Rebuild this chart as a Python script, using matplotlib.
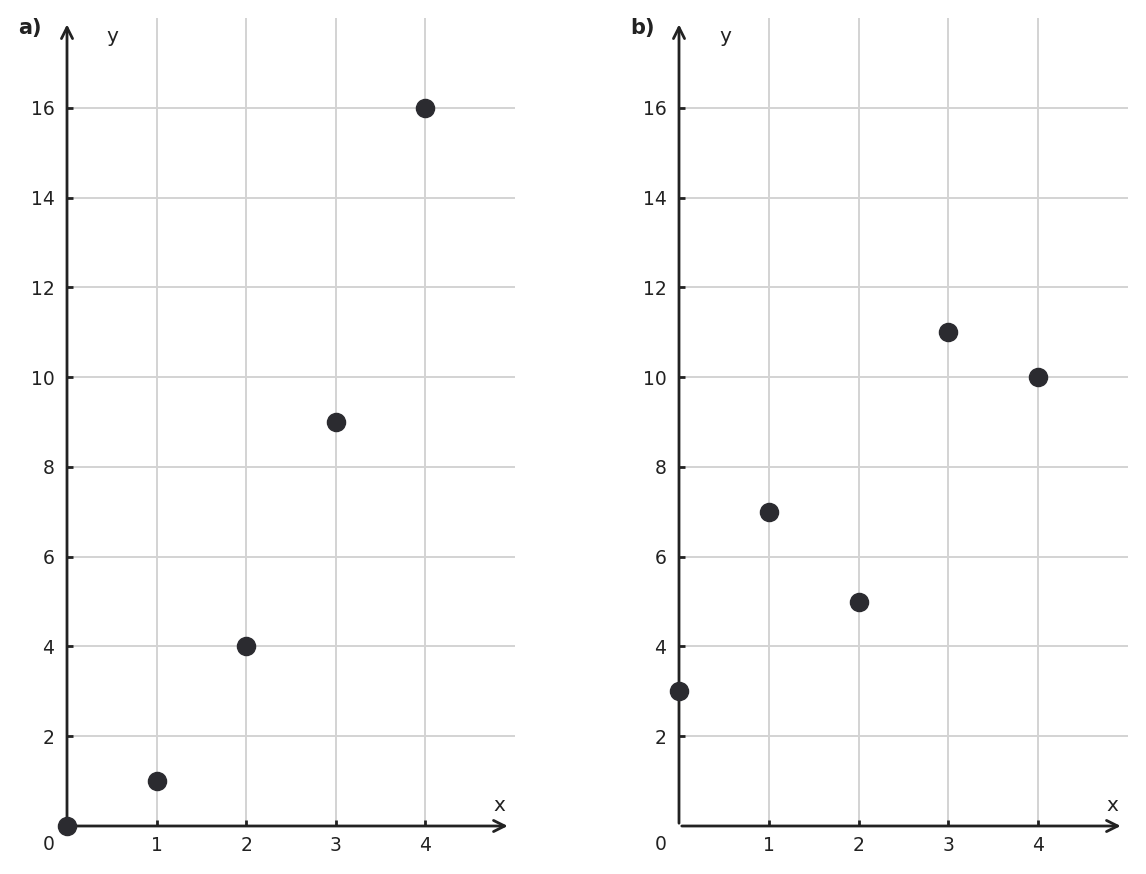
import matplotlib.pyplot as plt

# data for the two panels
x_vals = [0, 1, 2, 3, 4]
y_a = [0, 1, 4, 9, 16]
y_b = [3, 7, 5, 11, 10]
x_ticks = [1, 2, 3, 4]
y_ticks = [2, 4, 6, 8, 10, 12, 14, 16]

ink = '#222222'
dot = '#2b2b30'
grid_col = '#d3d3d3'

fig = plt.figure(figsize=(11.46, 8.74), dpi=100)
ax_a = fig.add_axes([67 / 1146, 48 / 874, 448 / 1146, 808 / 874])
ax_b = fig.add_axes([679 / 1146, 48 / 874, 449 / 1146, 808 / 874])

for ax, ys, tag in [(ax_a, y_a, 'a)'), (ax_b, y_b, 'b)')]:
    ax.set_xlim(0, 5)
    ax.set_ylim(0, 18)
    for s in ax.spines.values():
        s.set_visible(False)

    # grid lines
    for t in x_ticks:
        ax.axvline(t, color=grid_col, lw=1.4, zorder=0)
    for t in y_ticks:
        ax.axhline(t, color=grid_col, lw=1.4, zorder=0)

    ax.set_xticks(x_ticks)
    ax.set_yticks(y_ticks)
    ax.tick_params(direction='in', length=4, width=2, color=ink,
                   labelsize=13.5, labelcolor=ink, pad=7)
    ax.tick_params(axis='y', pad=9)

    # axis arrows
    ax.annotate('', xy=(4.95, 0), xytext=(0, 0),
                arrowprops=dict(arrowstyle='->', lw=2, color=ink,
                                mutation_scale=20), annotation_clip=False)
    ax.annotate('', xy=(0, 17.92), xytext=(0, 0),
                arrowprops=dict(arrowstyle='->', lw=2, color=ink,
                                mutation_scale=20), annotation_clip=False)

    ax.text(4.83, 0.45, 'x', fontsize=14.5, color=ink, ha='center', va='center')
    ax.text(0.51, 17.58, 'y', fontsize=14.5, color=ink, ha='center', va='center')
    ax.text(-0.2, -0.21, '0', fontsize=13.5, color=ink, ha='center', va='top')
    ax.text(-0.41, 17.78, tag, fontsize=15, fontweight='bold', color=ink,
            ha='center', va='center')

    ax.scatter(x_vals, ys, s=170, color=dot, zorder=5, clip_on=False)

plt.savefig('out.png', dpi=100)
